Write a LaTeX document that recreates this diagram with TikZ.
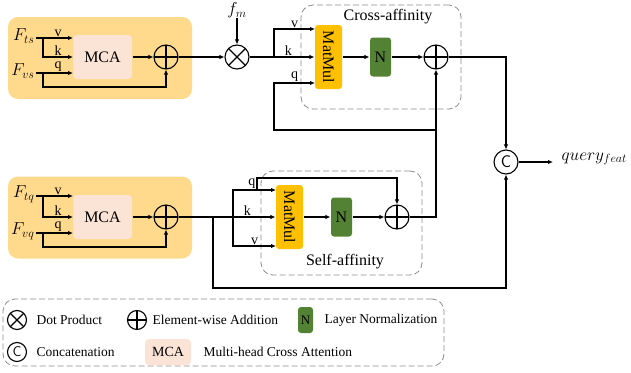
\documentclass[tikz,border=0pt]{standalone}
\usepackage{fontspec}
\setmainfont{Liberation Serif}
\usetikzlibrary{arrows.meta}
\definecolor{panelyellow}{RGB}{255,217,140}
\definecolor{mcapeach}{RGB}{251,228,213}
\definecolor{matorange}{RGB}{255,192,0}
\definecolor{ngreen}{RGB}{84,130,53}
\definecolor{dashgray}{RGB}{140,140,140}

\begin{document}
\begin{tikzpicture}[x=1pt, y=-1pt, line width=1.1pt,
  arr/.style={-{Latex[length=5pt,width=4.5pt]}},
  panel/.style={fill=panelyellow, rounded corners=10pt, minimum width=184pt, minimum height=82pt, inner sep=0pt},
  mca/.style={fill=mcapeach, rounded corners=4pt, minimum width=59pt, minimum height=44pt, inner sep=0pt, font=\fontsize{16}{19}\selectfont},
  matmul/.style={fill=matorange, rounded corners=3pt, minimum width=27pt, minimum height=64pt, inner sep=0pt, font=\fontsize{16}{19}\selectfont},
  nbox/.style={fill=ngreen, rounded corners=3pt, minimum width=21pt, minimum height=39pt, inner sep=0pt, font=\fontsize{16}{19}\selectfont},
  addop/.style={circle, draw, minimum size=24pt, inner sep=0pt,
    path picture={\draw (path picture bounding box.north) -- (path picture bounding box.south)
      (path picture bounding box.east) -- (path picture bounding box.west);}},
  mulop/.style={circle, draw, minimum size=24pt, inner sep=0pt,
    path picture={\draw (path picture bounding box.north west) -- (path picture bounding box.south east)
      (path picture bounding box.north east) -- (path picture bounding box.south west);}},
  catop/.style={circle, draw, minimum size=24pt, inner sep=0pt, font=\fontsize{17}{19}\sffamily},
  group/.style={draw=dashgray, dash pattern=on 6pt off 3pt, line width=0.8pt, rounded corners=12pt, inner sep=0pt},
  qkv/.style={above, inner sep=0.5pt, font=\fontsize{14}{16}\selectfont},
  lbl/.style={inner sep=0pt, font=\fontsize{16}{19}\selectfont},
  mlbl/.style={inner sep=0pt, font=\fontsize{17.5}{20}\selectfont},
  legtxt/.style={anchor=west, inner sep=0pt, font=\fontsize{13.5}{16}\selectfont}
]
\useasboundingbox (0,0) rectangle (631,372);

% panels and groups
\node[panel] (panT) at (100,58) {};
\node[panel] (panB) at (100,217.5) {};
\node[group, minimum width=160pt, minimum height=104pt] (crossbox) at (381,57) {};
\node[group, minimum width=161pt, minimum height=104pt] (selfbox) at (341.5,223) {};
\node[lbl] (crossLbl) at (388,17) {Cross-affinity};
\node[lbl] (selfLbl) at (345,262) {Self-affinity};

% upper MCA
\node[mca] (mcaT) at (102.5,57) {MCA};
\node[addop] (addT) at (166,57) {};
\node[mlbl, anchor=east] (ftsT) at (35,36) {$F_{ts}$};
\node[mlbl, anchor=east] (fvsT) at (35,71) {$F_{vs}$};
\coordinate (tsT) at (36,38);
\coordinate (vsT) at (36,73);
\coordinate (jtsT) at (43,38);
\coordinate (jvsT) at (43,73);
\coordinate (vT) at (73,38);
\coordinate (kT) at (73,57);
\coordinate (qT) at (73,73);
\coordinate (lowT) at (166,87);
\draw[arr] (tsT) -- node[qkv, pos=0.6] {v} (vT);
\draw[arr] (jtsT) |- node[qkv, pos=0.75] {k} (kT);
\draw[arr] (vsT) -- node[qkv, pos=0.6] {q} (qT);
\draw[arr] (jvsT) |- (lowT) -- (addT.south);
\draw[arr] (mcaT) -- (addT);

% lower MCA
\node[mca] (mcaB) at (102.5,217) {MCA};
\node[addop] (addB) at (166,217) {};
\node[mlbl, anchor=east] (ftqB) at (35,194) {$F_{tq}$};
\node[mlbl, anchor=east] (fvqB) at (35,231) {$F_{vq}$};
\coordinate (tqB) at (36,196);
\coordinate (vqB) at (36,233);
\coordinate (jtqB) at (43,196);
\coordinate (jvqB) at (43,233);
\coordinate (vB) at (73,196);
\coordinate (kB) at (73,217);
\coordinate (qB) at (73,233);
\coordinate (lowB) at (166,247);
\draw[arr] (tqB) -- node[qkv, pos=0.6] {v} (vB);
\draw[arr] (jtqB) |- node[qkv, pos=0.75] {k} (kB);
\draw[arr] (vqB) -- node[qkv, pos=0.6] {q} (qB);
\draw[arr] (jvqB) |- (lowB) -- (addB.south);
\draw[arr] (mcaB) -- (addB);

% cross-affinity
\node[mulop] (mulT) at (237,57) {};
\node[mlbl, anchor=north] (fm) at (237,2) {$f_m$};
\node[matmul] (matC) at (328.5,57) {\rotatebox{-90}{MatMul}};
\node[nbox] (nC) at (380.5,57) {N};
\node[addop] (addC) at (436,57) {};
\coordinate (cbr) at (274,57);
\coordinate (vC) at (315,29);
\coordinate (qC) at (315,83);
\coordinate (jq) at (436,130);
\draw[arr] (addT) -- (mulT);
\draw[arr] (fm) -- (mulT);
\draw[arr] (mulT) -- node[qkv, pos=0.6] {k} (matC.west);
\draw[arr] (cbr) |- node[qkv, pos=0.75] {v} (vC);
\draw[arr] (jq) -- (jq -| cbr) |- node[qkv, pos=0.75] {q} (qC);
\draw[arr] (matC) -- (nC);
\draw[arr] (nC) -- (addC);

% self-affinity
\node[matmul] (matS) at (289.5,217) {\rotatebox{-90}{MatMul}};
\node[nbox] (nS) at (341.5,217) {N};
\node[addop] (addS) at (397,217) {};
\coordinate (sbr) at (213,217);
\coordinate (sbr2) at (233,217);
\coordinate (qS) at (276,190);
\coordinate (vS) at (276,246);
\coordinate (jres) at (257,190);
\coordinate (topS) at (397,178);
\draw[arr] (addB) -- node[qkv, pos=0.71] {k} (matS.west);
\draw[arr] (sbr2) |- node[qkv, pos=0.72] {q} (qS);
\draw[arr] (sbr2) |- node[qkv, pos=0.75] {v} (vS);
\draw[arr] (jres) |- (topS) -- (addS.north);
\draw[arr] (matS) -- (nS);
\draw[arr] (nS) -- (addS);
\draw[arr] (addS) -| (addC.south);

% output
\node[catop] (cat) at (506,162) {C};
\coordinate (lowS) at (506,288);
\coordinate (qout) at (553,162);
\node[mlbl, anchor=west, font=\fontsize{18.5}{21}\selectfont] (query) at (561,159) {$query_{feat}$};
\draw[arr] (addC) -| (cat.north);
\draw[arr] (sbr) |- (lowS) -- (cat.south);
\draw[arr] (cat) -- (qout);

% legend
\node[group, minimum width=441pt, minimum height=67pt] (legend) at (223.5,332.5) {};
\node[mulop, minimum size=19pt] (lgMul) at (17,320) {};
\node[legtxt] (lgMulTxt) at (36,320) {Dot Product};
\node[addop, minimum size=19pt] (lgAdd) at (137,320) {};
\node[legtxt] (lgAddTxt) at (152,320) {Element-wise Addition};
\node[nbox, minimum width=15pt, minimum height=26pt, font=\fontsize{13}{15}\selectfont] (lgN) at (305.5,320) {N};
\node[legtxt] (lgNTxt) at (324,320) {Layer Normalization};
\node[catop, minimum size=19pt, font=\fontsize{14}{16}\sffamily] (lgCat) at (17,352) {C};
\node[legtxt] (lgCatTxt) at (36,352) {Concatenation};
\node[mca, minimum width=46pt, minimum height=26pt, font=\fontsize{14}{16}\selectfont] (lgMCA) at (168,352) {MCA};
\node[legtxt] (lgMCATxt) at (203,352) {Multi-head Cross Attention};
\end{tikzpicture}
\end{document}
